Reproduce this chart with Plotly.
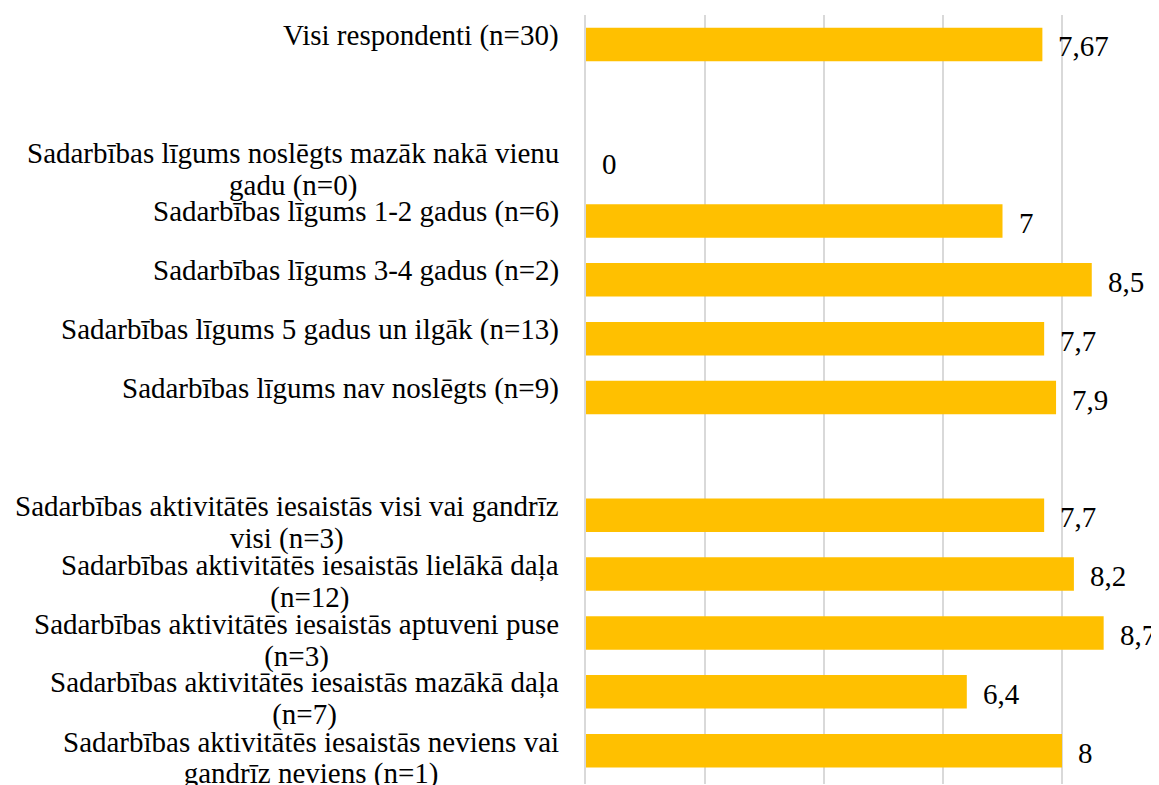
"""
Horizontal bar chart: cooperation agreement and activity involvement scores.
"""
import plotly.graph_objects as go

# Categories top to bottom; blank entries are spacer rows between groups
categories = [
    "Visi respondenti (n=30)",
    " ",
    "Sadarbības līgums noslēgts mazāk nakā vienu<br>gadu (n=0)",
    "Sadarbības līgums 1-2 gadus (n=6)",
    "Sadarbības līgums 3-4 gadus (n=2)",
    "Sadarbības līgums 5 gadus un ilgāk (n=13)",
    "Sadarbības līgums nav noslēgts (n=9)",
    "  ",
    "Sadarbības aktivitātēs iesaistās visi vai gandrīz<br>visi (n=3)",
    "Sadarbības aktivitātēs iesaistās lielākā daļa<br>(n=12)",
    "Sadarbības aktivitātēs iesaistās aptuveni puse<br>(n=3)",
    "Sadarbības aktivitātēs iesaistās mazākā daļa<br>(n=7)",
    "Sadarbības aktivitātēs iesaistās neviens vai<br>gandrīz neviens (n=1)",
]
values = [7.67, None, 0, 7, 8.5, 7.7, 7.9, None, 7.7, 8.2, 8.7, 6.4, 8]
value_labels = ["7,67", "", "0", "7", "8,5", "7,7", "7,9", "", "7,7", "8,2", "8,7", "6,4", "8"]

FONT = "Liberation Serif, Times New Roman, serif"
FONT_SIZE = 29
BAR_COLOR = "#FFC000"
GRID_COLOR = "#D9D9D9"
# the page body adds an 8px offset, so the figure is sized to end at the window edge
PAGE_OFFSET = 8

fig = go.Figure(
    go.Bar(
        x=values,
        y=categories,
        orientation="h",
        marker=dict(color=BAR_COLOR, line=dict(width=0)),
        hoverinfo="skip",
    )
)

# value labels to the right of each bar
for cat, val, lab in zip(categories, values, value_labels):
    if val is None:
        continue
    fig.add_annotation(
        x=val, y=cat, xref="x", yref="y",
        text=lab, showarrow=False,
        xanchor="left", yanchor="middle",
        xshift=14, yshift=-2,
        font=dict(family=FONT, size=FONT_SIZE, color="black"),
    )

# category labels. First line right-aligned to the axis; the second line is
# centered under it (a hidden copy of line one sets the box width), and is
# placed on its own so the line spacing can stay tight like the original.
label_font = dict(family=FONT, size=FONT_SIZE, color="black")
plotly_line = 1.3 * FONT_SIZE
for cat in categories:
    if not cat.strip():
        continue
    lines = cat.split("<br>")
    fig.add_annotation(
        x=0, y=cat, xref="paper", yref="y",
        text=lines[0], showarrow=False,
        xanchor="right", yanchor="middle",
        xshift=-25, yshift=9,
        font=label_font,
    )
    if len(lines) > 1:
        hidden = '<span style="color:rgba(0,0,0,0)">%s</span>' % lines[0]
        fig.add_annotation(
            x=0, y=cat, xref="paper", yref="y",
            text=hidden + "<br>" + lines[1], showarrow=False,
            xanchor="right", yanchor="middle", align="center",
            xshift=-25, yshift=-23 + plotly_line / 2,
            font=label_font,
        )

fig.update_layout(
    width=1159 - PAGE_OFFSET,
    height=792 - PAGE_OFFSET,
    margin=dict(l=586 - PAGE_OFFSET, r=0, t=15 - PAGE_OFFSET, b=5),
    paper_bgcolor="white",
    plot_bgcolor="white",
    bargap=0.43,
    showlegend=False,
    font=dict(family=FONT, size=FONT_SIZE, color="black"),
)
fig.update_xaxes(
    range=[0, 9.63],
    dtick=2,
    showgrid=True,
    gridcolor=GRID_COLOR,
    gridwidth=2,
    zeroline=False,
    showticklabels=False,
    ticks="outside",
    ticklen=8,
    tickwidth=2,
    tickcolor=GRID_COLOR,
    showline=False,
)
fig.update_yaxes(
    categoryorder="array",
    categoryarray=categories,
    autorange="reversed",
    showticklabels=False,
    showgrid=False,
    zeroline=False,
    showline=True,
    linecolor=GRID_COLOR,
    linewidth=2,
)

fig.write_html("out.html")
